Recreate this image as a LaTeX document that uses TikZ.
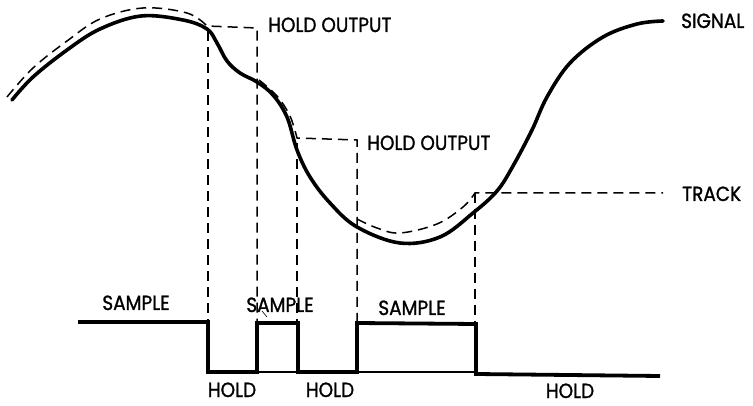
\documentclass[tikz,border=0pt]{standalone}
\usepackage{fontspec}
\setmainfont{Poppins}[FakeStretch=0.9,FakeBold=1.2]
\begin{document}
\begin{tikzpicture}[x=1pt,y=-1pt,
  sig/.style={line width=3.6pt,line cap=round,line join=round},
  held/.style={line width=1.5pt,dash pattern=on 10pt off 6pt},
  wave/.style={line width=3.8pt,line join=miter},
  base/.style={line width=1.2pt},
  lbl/.style={font=\fontsize{20.5}{24}\selectfont,inner sep=0pt,anchor=base}]
\useasboundingbox (0,0) rectangle (753,406);
% signal
\draw[sig] plot[smooth,tension=0.6] coordinates {(12,100) (33,77) (67,50) (100,29) (141,16) (183,20) (207,29) (217,43) (227,61) (240,73) (257,82) (273,95) (287,117) (297,150) (310,177) (330,203) (357,227) (400,243) (440,237) (473,213) (497,191) (513,166) (532,130) (547,97) (570,63) (603,37) (637,24) (663,21)};
% dashed hold / track output
\draw[held] plot[smooth,tension=0.6] coordinates {(7,97) (33,68) (67,41) (100,19) (143,8) (187,13) (207,26)} -- (257,28) -- (257,322);
\draw[held] (208,31) -- (208,322);
\draw[held] plot[smooth,tension=0.6] coordinates {(259,80) (277,96) (290,116) (297,138)} -- (357,140) -- (357,322);
\draw[held] (297,143) -- (297,322);
\draw[held] plot[smooth,tension=0.6] coordinates {(357,219) (377,228) (400,233) (437,224) (463,207) (475,193)} -- (663,193);
\draw[held] (475,193) -- (475,322);
% sample / hold waveform
\draw[base] (208,372) -- (476,372);
\draw[wave] (78,322) -- (208,322) -- (208,372) -- (257,372) -- (257,323) -- (298,323) -- (298,372) -- (357,372) -- (357,323) -- (476,324) -- (476,374) -- (660,376);
\draw[line width=0.6pt] (262,311) -- (267,317);
% labels
\node[lbl,anchor=base west] (ho1) at (268,32) {HOLD OUTPUT};
\node[lbl,anchor=base west] (ho2) at (367,150) {HOLD OUTPUT};
\node[lbl,anchor=base west] (sg) at (681,28) {SIGNAL};
\node[lbl,anchor=base west] (tr) at (682,201) {TRACK};
\node[lbl] (s1) at (136,310) {SAMPLE};
\node[lbl] (s2) at (280,312) {SAMPLE};
\node[lbl] (s3) at (412,315) {SAMPLE};
\node[lbl] (h1) at (232,397) {HOLD};
\node[lbl] (h2) at (330,397) {HOLD};
\node[lbl] (h3) at (570,398) {HOLD};
\end{tikzpicture}
\end{document}
